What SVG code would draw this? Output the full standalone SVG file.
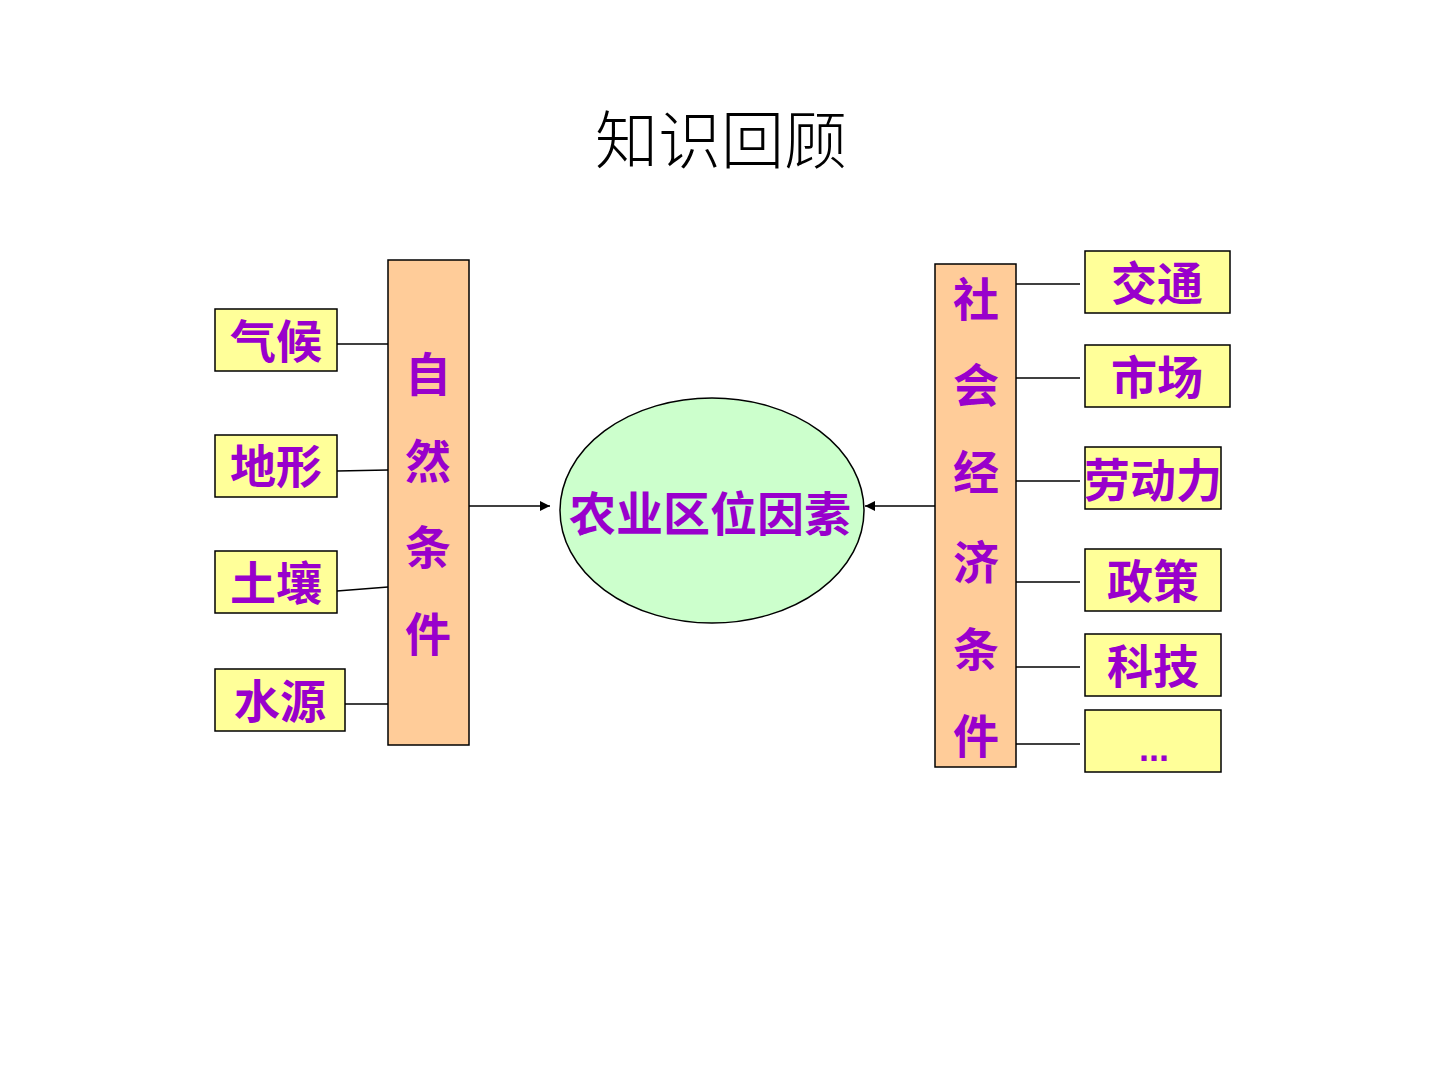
<svg xmlns="http://www.w3.org/2000/svg" width="1440" height="1080" viewBox="0 0 1440 1080">
<style>
.box{fill:#FFFF99;stroke:#000;stroke-width:1.5}
.bar{fill:#FFCC99;stroke:#000;stroke-width:1.5}
.t{font-family:"Liberation Sans","Noto Sans CJK SC",sans-serif;font-weight:bold;fill:#9900CC;text-anchor:middle;dominant-baseline:central}
.lb{font-size:46px}
.v{font-size:46px}
.ln{stroke:#000;stroke-width:1.3;fill:none}
</style>
<defs>
<marker id="ah" viewBox="0 0 10 10" refX="10" refY="5" markerWidth="10" markerHeight="10" markerUnits="userSpaceOnUse" orient="auto">
<path d="M0,0 L10,5 L0,10 z" fill="#000"/>
</marker>
</defs>
<rect width="1440" height="1080" fill="#fff"/>
<text x="721" y="135" font-family="'Noto Sans CJK SC',serif" font-weight="300" font-size="63" text-anchor="middle" dominant-baseline="central" fill="#000">知识回顾</text>

<g id="connectors">
<line class="ln" x1="337" y1="344" x2="388" y2="344"/>
<line class="ln" x1="337" y1="471" x2="388" y2="470"/>
<line class="ln" x1="337" y1="591" x2="388" y2="587"/>
<line class="ln" x1="345" y1="704" x2="388" y2="704"/>
<line class="ln" x1="469" y1="506" x2="550" y2="506" marker-end="url(#ah)"/>
<line class="ln" x1="935" y1="506" x2="865" y2="506" marker-end="url(#ah)"/>
<line class="ln" x1="1016" y1="284" x2="1080" y2="284"/>
<line class="ln" x1="1016" y1="378" x2="1080" y2="378"/>
<line class="ln" x1="1016" y1="481" x2="1080" y2="481"/>
<line class="ln" x1="1016" y1="582" x2="1080" y2="582"/>
<line class="ln" x1="1016" y1="667" x2="1080" y2="667"/>
<line class="ln" x1="1016" y1="744" x2="1080" y2="744"/>
</g>

<g id="n-qihou"><rect class="box" x="215" y="309" width="122" height="62"/><text class="t lb" x="276" y="342">气候</text></g>
<g id="n-dixing"><rect class="box" x="215" y="435" width="122" height="62"/><text class="t lb" x="276" y="467">地形</text></g>
<g id="n-turang"><rect class="box" x="215" y="551" width="122" height="62"/><text class="t lb" x="276" y="584">土壤</text></g>
<g id="n-shuiyuan"><rect class="box" x="215" y="669" width="130" height="62"/><text class="t lb" x="280" y="702">水源</text></g>

<g id="n-ziran"><rect class="bar" x="388" y="260" width="81" height="485"/>
<text class="t v" x="428" y="375">自</text>
<text class="t v" x="428" y="462">然</text>
<text class="t v" x="428" y="548">条</text>
<text class="t v" x="428" y="635">件</text>
</g>

<g id="n-center"><ellipse cx="712" cy="510.5" rx="152" ry="112.5" fill="#CCFFCC" stroke="#000" stroke-width="1.5"/>
<text class="t" font-size="47" x="710" y="514">农业区位因素</text></g>

<g id="n-shehui"><rect class="bar" x="935" y="264" width="81" height="503"/>
<text class="t v" x="976" y="300">社</text>
<text class="t v" x="976" y="386">会</text>
<text class="t v" x="976" y="473">经</text>
<text class="t v" x="976" y="563">济</text>
<text class="t v" x="976" y="650">条</text>
<text class="t v" x="976" y="737">件</text>
</g>

<g id="n-jiaotong"><rect class="box" x="1085" y="251" width="145" height="62"/><text class="t lb" x="1157" y="284">交通</text></g>
<g id="n-shichang"><rect class="box" x="1085" y="345" width="145" height="62"/><text class="t lb" x="1157" y="378">市场</text></g>
<g id="n-laodongli"><rect class="box" x="1085" y="447" width="136" height="62"/><text class="t lb" x="1153" y="481">劳动力</text></g>
<g id="n-zhengce"><rect class="box" x="1085" y="549" width="136" height="62"/><text class="t lb" x="1153" y="582">政策</text></g>
<g id="n-keji"><rect class="box" x="1085" y="634" width="136" height="62"/><text class="t lb" x="1153" y="667">科技</text></g>
<g id="n-more"><rect class="box" x="1085" y="710" width="136" height="62"/><text class="t" font-size="36" x="1154" y="748">...</text></g>
</svg>
